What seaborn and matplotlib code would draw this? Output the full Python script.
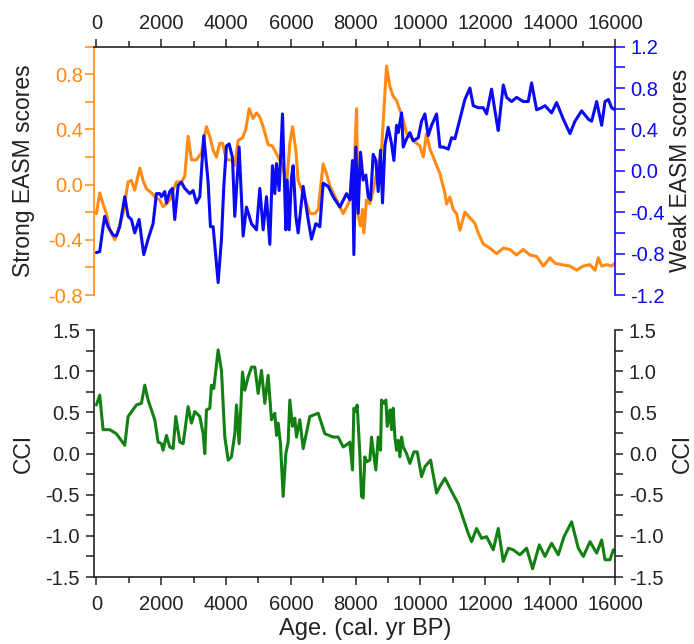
import matplotlib
matplotlib.use("Agg")
import matplotlib.pyplot as plt
from matplotlib.ticker import MultipleLocator, FormatStrFormatter
import seaborn as sns

# Strong EASM scores (orange, left axis of the upper panel)
strong_age = [0, 103, 206, 309, 412, 566, 669, 823, 978, 1080, 1183, 1338, 1441, 1544, 1698,
              1852, 1955, 2058, 2161, 2264, 2367, 2470, 2624, 2727, 2830, 2933, 3087, 3241,
              3396, 3499, 3602, 3704, 3807, 3890, 4013, 4167, 4270, 4373, 4507, 4610, 4713,
              4836, 4939, 5042, 5145, 5299, 5433, 5608, 5762, 5865, 5968, 6051, 6154, 6225,
              6380, 6586, 6740, 6843, 6997, 7100, 7203, 7306, 7409, 7615, 7769, 7820, 7923,
              8026, 8077, 8149, 8211, 8252, 8334, 8437, 8540, 8643, 8798, 8952, 9055, 9158,
              9261, 9364, 9467, 9570, 9673, 9827, 9981, 10084, 10187, 10290, 10393, 10599,
              10753, 10805, 10907, 11010, 11113, 11216, 11370, 11525, 11679, 11782, 11936,
              12142, 12348, 12554, 12760, 12965, 13171, 13377, 13583, 13789, 13995, 14149,
              14355, 14612, 14818, 15024, 15230, 15384, 15487, 15590, 15744, 15898, 16000]
strong_score = [-0.21, -0.06, -0.14, -0.21, -0.33, -0.40, -0.33, -0.21, 0.02, 0.03, -0.04, 0.12,
                0.03, -0.03, -0.06, -0.10, -0.11, -0.16, -0.14, -0.11, -0.04, 0.02, 0.02, 0.06,
                0.35, 0.18, 0.18, 0.23, 0.42, 0.35, 0.25, 0.20, 0.30, 0.30, 0.18, 0.18, 0.14,
                0.32, 0.34, 0.40, 0.55, 0.48, 0.52, 0.49, 0.42, 0.29, 0.28, 0.20, 0.13, -0.01,
                0.30, 0.42, 0.25, 0.03, -0.06, -0.21, -0.21, -0.18, 0.15, 0.08, -0.01, -0.06,
                -0.11, -0.21, -0.14, -0.11, -0.09, 0.55, -0.23, -0.30, -0.18, -0.35, -0.11,
                -0.14, -0.04, 0.08, 0.25, 0.86, 0.71, 0.64, 0.61, 0.54, 0.47, 0.37, 0.35, 0.31,
                0.28, 0.20, 0.37, 0.26, 0.20, 0.08, -0.06, -0.14, -0.09, -0.18, -0.21, -0.33,
                -0.20, -0.24, -0.28, -0.35, -0.43, -0.46, -0.50, -0.46, -0.47, -0.51, -0.47,
                -0.51, -0.52, -0.59, -0.53, -0.57, -0.58, -0.59, -0.62, -0.59, -0.58, -0.62,
                -0.53, -0.59, -0.58, -0.59, -0.57]

# Weak EASM scores (blue, right axis of the upper panel)
weak_age = [0, 103, 206, 257, 360, 515, 617, 720, 875, 978, 1080, 1183, 1317, 1461, 1595, 1749,
            1852, 1955, 2007, 2109, 2161, 2264, 2346, 2418, 2521, 2624, 2727, 2881, 2984, 3087,
            3190, 3313, 3447, 3519, 3602, 3756, 3859, 3931, 4013, 4096, 4198, 4270, 4404, 4528,
            4631, 4785, 4939, 5042, 5145, 5248, 5351, 5433, 5505, 5557, 5639, 5742, 5845, 5886,
            5948, 6020, 6071, 6154, 6225, 6380, 6534, 6637, 6771, 6894, 6997, 7152, 7306, 7512,
            7718, 7820, 7902, 7944, 8005, 8077, 8149, 8231, 8314, 8386, 8458, 8540, 8623, 8695,
            8767, 8829, 8901, 9004, 9107, 9179, 9261, 9313, 9416, 9467, 9570, 9673, 9776, 9930,
            10033, 10136, 10239, 10342, 10496, 10599, 10702, 10856, 10959, 11062, 11216, 11370,
            11525, 11628, 11782, 11936, 12039, 12193, 12348, 12399, 12554, 12657, 12811, 12965,
            13171, 13325, 13428, 13583, 13737, 13840, 14046, 14200, 14406, 14612, 14766, 14972,
            15178, 15281, 15436, 15590, 15693, 15796, 15898, 16000]
weak_score = [-0.79, -0.78, -0.54, -0.44, -0.54, -0.62, -0.63, -0.54, -0.25, -0.44, -0.47, -0.60,
              -0.47, -0.81, -0.66, -0.51, -0.22, -0.22, -0.25, -0.20, -0.31, -0.20, -0.17, -0.47,
              -0.14, -0.11, -0.17, -0.22, -0.19, -0.31, -0.25, 0.34, -0.11, -0.54, -0.54, -1.08,
              -0.66, -0.15, 0.24, 0.26, 0.13, -0.44, 0.23, -0.63, -0.35, -0.51, -0.57, -0.17,
              -0.57, -0.25, -0.71, 0.05, -0.22, 0.07, -0.19, 0.55, -0.57, -0.09, -0.57, -0.06,
              0.05, -0.44, -0.60, -0.15, -0.47, -0.66, -0.51, -0.54, -0.12, -0.15, -0.25, -0.35,
              -0.22, -0.28, 0.10, -0.81, 0.23, -0.41, 0.18, -0.09, -0.04, -0.25, -0.28, 0.16,
              0.10, -0.20, 0.20, -0.31, 0.24, 0.42, 0.26, 0.10, 0.44, 0.37, 0.56, 0.23, 0.31,
              0.37, 0.29, 0.32, 0.48, 0.55, 0.34, 0.44, 0.55, 0.23, 0.23, 0.21, 0.32, 0.31, 0.50,
              0.69, 0.80, 0.63, 0.61, 0.61, 0.55, 0.79, 0.48, 0.39, 0.83, 0.71, 0.67, 0.71, 0.67,
              0.67, 0.85, 0.59, 0.61, 0.63, 0.56, 0.66, 0.50, 0.36, 0.48, 0.58, 0.50, 0.48, 0.67,
              0.44, 0.67, 0.69, 0.61, 0.59]

# CCI (green, lower panel)
cci_age = [0, 103, 206, 412, 617, 875, 978, 1235, 1389, 1492, 1595, 1801, 1904, 2007, 2058,
           2161, 2264, 2367, 2449, 2573, 2676, 2830, 2933, 3036, 3190, 3293, 3344, 3396, 3499,
           3550, 3622, 3756, 3859, 3962, 4065, 4167, 4270, 4322, 4404, 4507, 4579, 4682, 4785,
           4888, 4991, 5094, 5196, 5299, 5402, 5505, 5557, 5608, 5680, 5762, 5845, 5917, 5968,
           6051, 6123, 6174, 6277, 6380, 6586, 6843, 7049, 7306, 7460, 7615, 7769, 7820, 7902,
           7944, 8005, 8046, 8128, 8180, 8232, 8283, 8334, 8437, 8489, 8540, 8623, 8695, 8767,
           8798, 8870, 8932, 8973, 9055, 9107, 9158, 9210, 9261, 9313, 9364, 9416, 9467, 9570,
           9673, 9797, 9900, 10033, 10136, 10311, 10496, 10599, 10753, 10959, 11164, 11319,
           11473, 11576, 11731, 11885, 12039, 12245, 12399, 12554, 12708, 12862, 13068, 13274,
           13459, 13665, 13840, 14046, 14252, 14427, 14663, 14869, 15024, 15230, 15436, 15590,
           15693, 15847, 15950, 16000]
cci = [0.59, 0.71, 0.29, 0.29, 0.24, 0.10, 0.45, 0.59, 0.61, 0.83, 0.65, 0.41, 0.14, 0.12, 0.04,
       0.22, 0.08, 0.06, 0.45, 0.14, 0.12, 0.57, 0.37, 0.51, 0.45, 0.24, 0.00, 0.53, 0.55, 0.83,
       0.79, 1.26, 1.01, 0.20, -0.08, -0.04, 0.24, 0.59, 0.12, 0.99, 0.77, 0.93, 1.05, 1.05, 0.73,
       1.01, 0.61, 0.95, 0.41, 0.49, 0.22, 0.37, 0.12, -0.52, 0.00, 0.14, 0.65, 0.33, 0.43, 0.20,
       0.41, 0.06, 0.45, 0.49, 0.24, 0.20, 0.20, 0.08, 0.12, 0.14, -0.20, 0.55, 0.51, 0.59, 0.00,
       -0.52, -0.54, -0.04, -0.10, -0.08, 0.20, 0.04, -0.20, 0.20, 0.04, 0.65, 0.61, 0.65, 0.33,
       0.53, 0.29, 0.55, 0.20, 0.04, 0.16, -0.04, 0.20, 0.08, 0.00, -0.12, 0.02, 0.02, -0.28,
       -0.16, -0.08, -0.48, -0.40, -0.30, -0.46, -0.61, -0.79, -0.97, -1.07, -0.91, -1.03, -1.01,
       -1.17, -0.91, -1.31, -1.15, -1.17, -1.23, -1.15, -1.40, -1.11, -1.25, -1.09, -1.23, -1.01,
       -0.83, -1.15, -1.25, -1.07, -1.21, -1.05, -1.29, -1.29, -1.17, -1.17]

orange = '#FF8A14'
blue = '#0A0AF5'
green = '#138013'
ink = '#222222'

sns.set_theme(style="ticks")
plt.rcParams['font.family'] = ['Liberation Sans', 'DejaVu Sans']

fig = plt.figure(figsize=(6.94, 6.44), dpi=100)
ax1 = fig.add_axes([0.1354, 0.5419, 0.7507, 0.3856])
ax1b = ax1.twinx()
ax2 = fig.add_axes([0.1354, 0.1040, 0.7507, 0.3835])
ax2b = ax2.twinx()

sns.lineplot(x=strong_age, y=strong_score, ax=ax1, color=orange, lw=2.2)
sns.lineplot(x=weak_age, y=weak_score, ax=ax1b, color=blue, lw=2.2)
sns.lineplot(x=cci_age, y=cci, ax=ax2, color=green, lw=2.2)

for ax in (ax1, ax2):
    ax.set_xlim(-75, 16000)
    ax.xaxis.set_major_locator(MultipleLocator(2000))
    ax.xaxis.set_minor_locator(MultipleLocator(1000))
    ax.tick_params(axis='x', which='major', direction='out', length=6, width=1.1,
                   labelsize=14.5, colors=ink)
    ax.tick_params(axis='x', which='minor', direction='out', length=4, width=1.1)

# upper panel
ax1.xaxis.tick_top()
ax1.tick_params(axis='x', which='both', pad=4)
ax1.set_ylim(-0.8, 1.0)
ax1.yaxis.set_major_locator(MultipleLocator(0.4))
ax1.yaxis.set_minor_locator(MultipleLocator(0.2))
ax1.yaxis.set_major_formatter(FormatStrFormatter('%.1f'))
ax1.tick_params(axis='y', which='both', direction='out', length=6.5, width=1.1,
                color=orange, labelcolor=orange, labelsize=14.5, pad=1.5)
ax1b.set_ylim(-1.2, 1.2)
ax1b.yaxis.set_major_locator(MultipleLocator(0.4))
ax1b.yaxis.set_minor_locator(MultipleLocator(0.2))
ax1b.yaxis.set_major_formatter(FormatStrFormatter('%.1f'))
ax1b.tick_params(axis='y', which='both', direction='out', length=7, width=1.1,
                 color=blue, labelcolor=blue, labelsize=14.5, pad=4)
for s in ('bottom', 'right'):
    ax1.spines[s].set_visible(False)
for s in ('bottom', 'top', 'left'):
    ax1b.spines[s].set_visible(False)
ax1.spines['left'].set_color(orange)
ax1b.spines['right'].set_color(blue)
ax1.spines['top'].set_color(ink)
ax1.set_ylabel('Strong EASM scores', fontsize=16.5, color=ink)
ax1b.set_ylabel('Weak EASM scores', fontsize=16.5, color=ink)
ax1.yaxis.set_label_coords(-0.113, 0.5)
ax1b.yaxis.set_label_coords(1.103, 0.5)

# lower panel
for ax in (ax2, ax2b):
    ax.set_ylim(-1.5, 1.5)
    ax.yaxis.set_major_locator(MultipleLocator(0.5))
    ax.yaxis.set_minor_locator(MultipleLocator(0.25))
    ax.yaxis.set_major_formatter(FormatStrFormatter('%.1f'))
    ax.tick_params(axis='y', which='both', direction='out', length=6, width=1.1,
                   color=ink, labelcolor=ink, labelsize=14.5, pad=4)
    ax.spines['top'].set_visible(False)
ax2.tick_params(axis='x', which='both', pad=7)
ax2.spines['right'].set_visible(False)
ax2b.spines['left'].set_visible(False)
ax2b.spines['bottom'].set_visible(False)
for s in ('left', 'bottom'):
    ax2.spines[s].set_color(ink)
ax2b.spines['right'].set_color(ink)
ax2.set_ylabel('CCI', fontsize=16.5, color=ink)
ax2b.set_ylabel('CCI', fontsize=16.5, color=ink)
ax2.yaxis.set_label_coords(-0.113, 0.5)
ax2b.yaxis.set_label_coords(1.108, 0.5)
ax2.set_xlabel('Age. (cal. yr BP)', fontsize=17, color=ink)
ax2.xaxis.set_label_coords(0.52, -0.165)

for ax in (ax1, ax1b, ax2, ax2b):
    for sp in ax.spines.values():
        sp.set_linewidth(1.2)

fig.savefig('out.png', dpi=100)
